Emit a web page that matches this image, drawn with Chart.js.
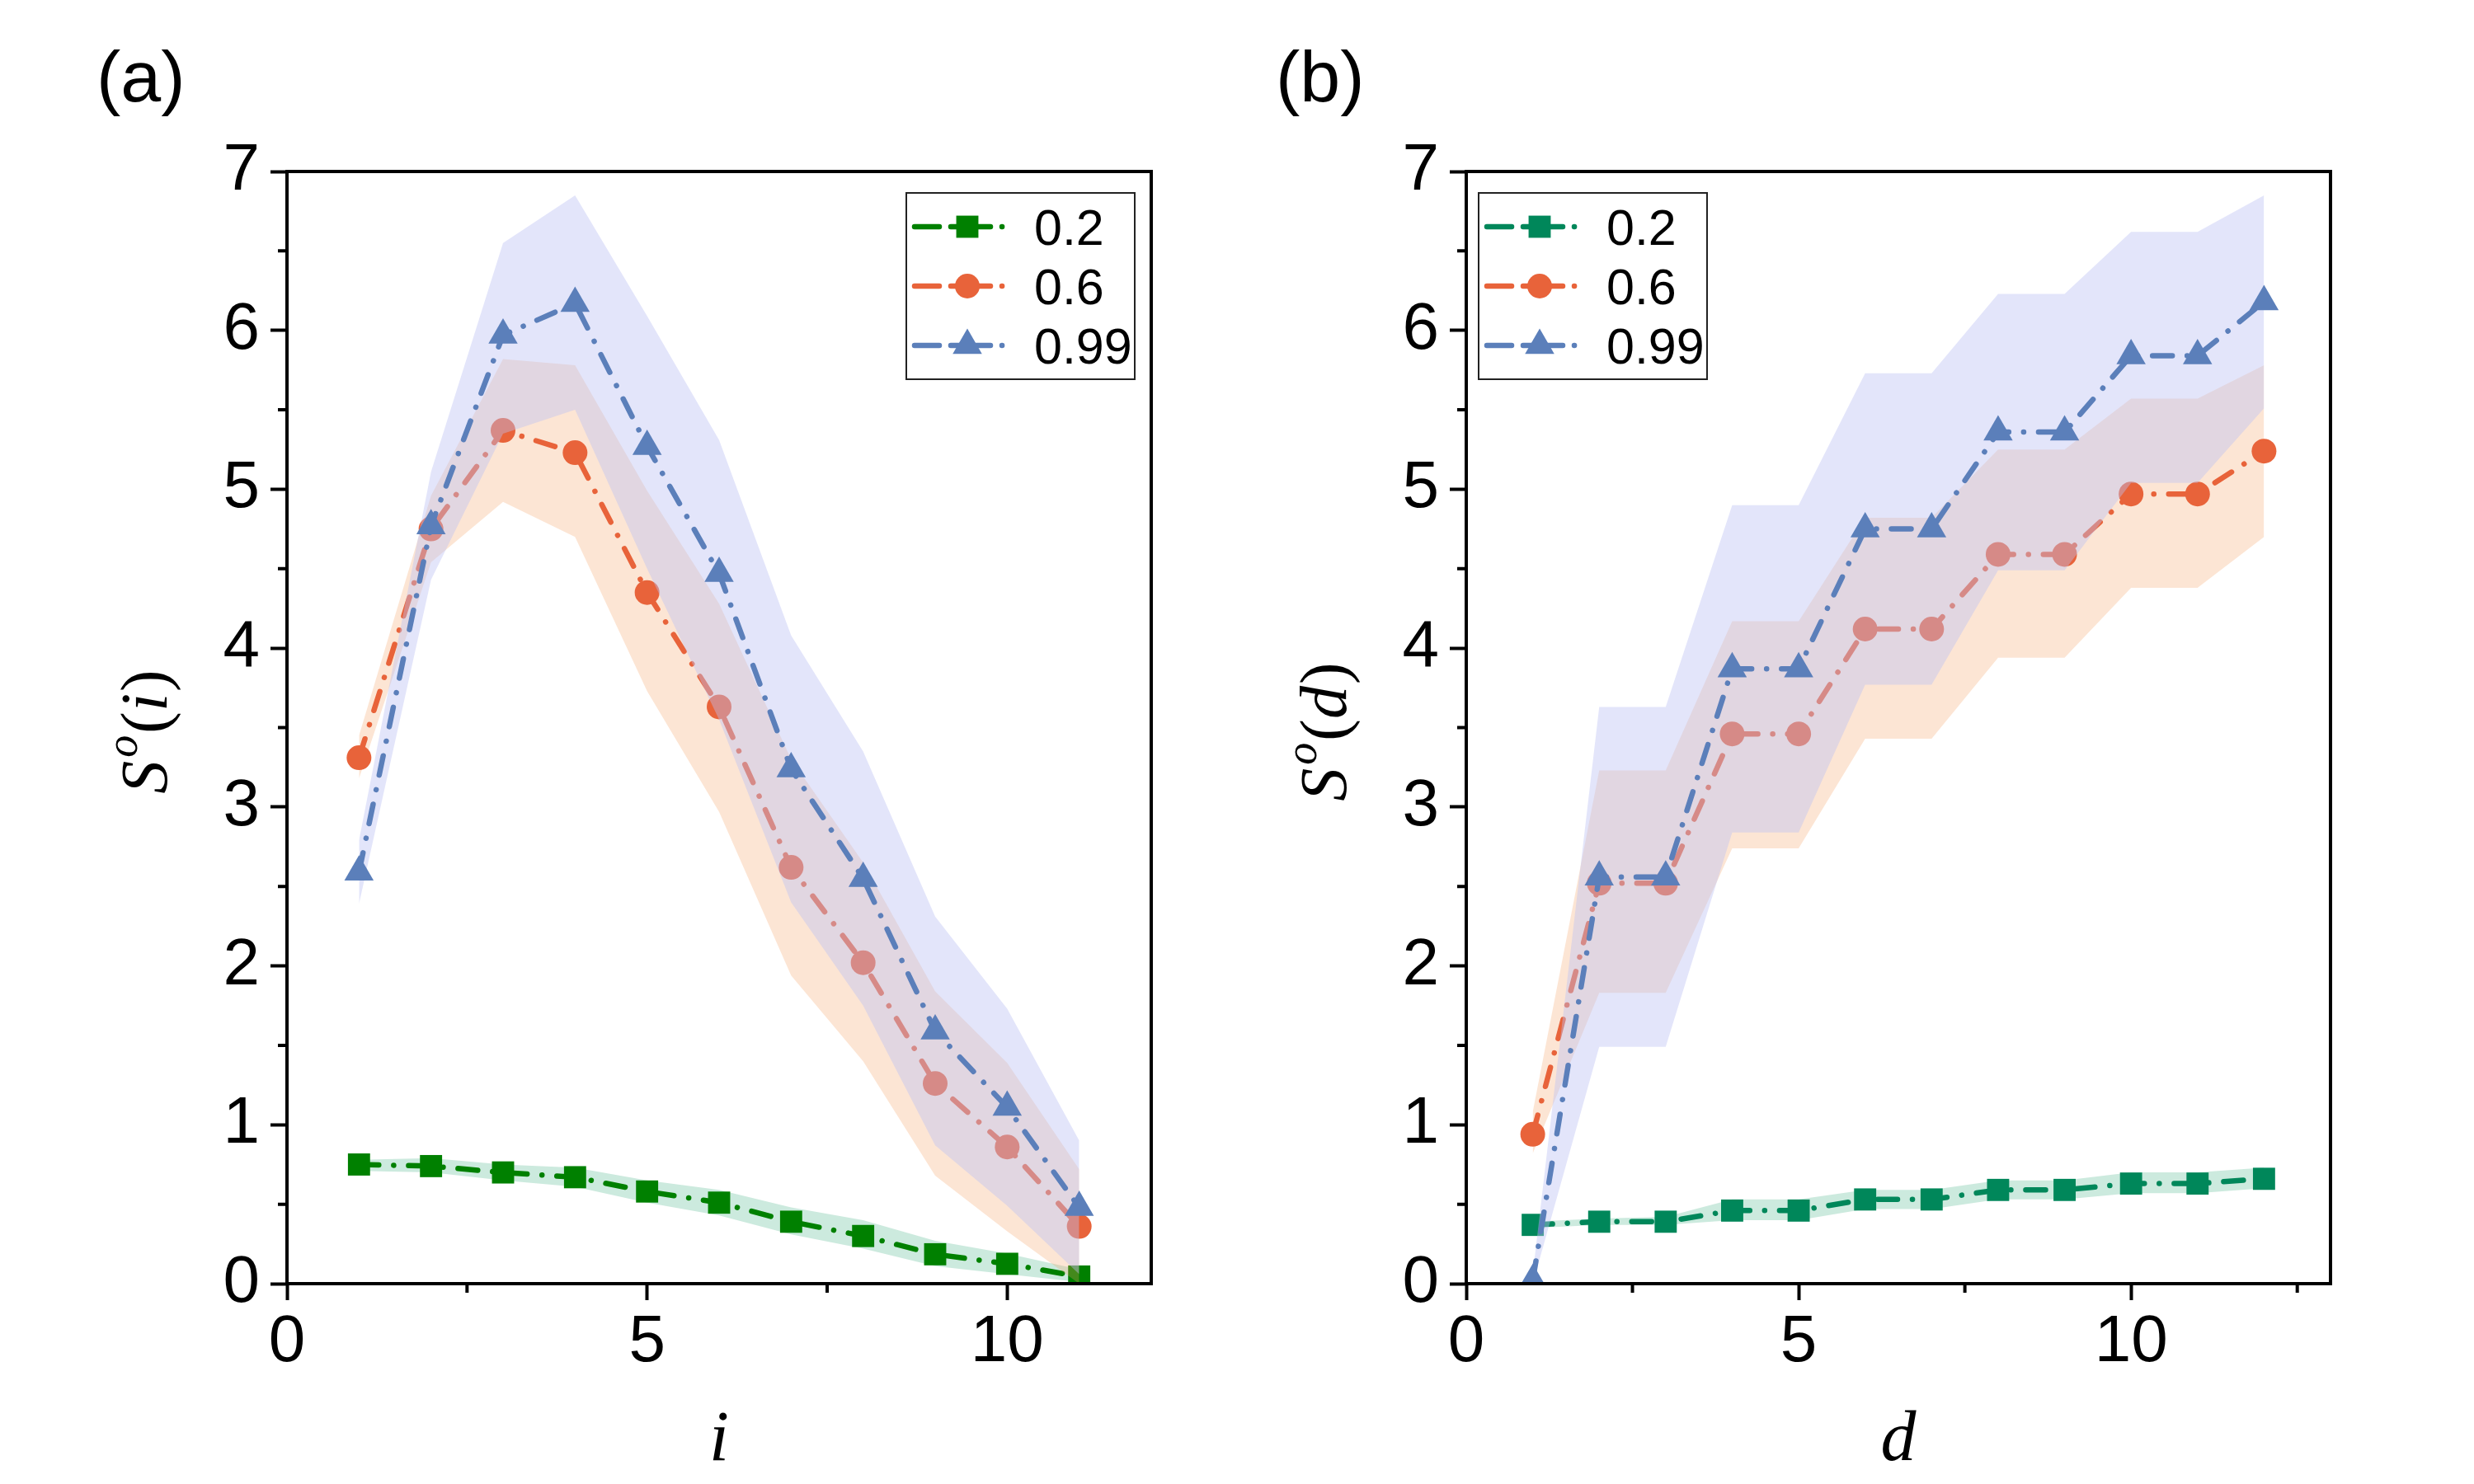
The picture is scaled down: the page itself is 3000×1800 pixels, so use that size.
<!DOCTYPE html>
<html>
<head>
<meta charset="utf-8">
<script src="https://cdn.jsdelivr.net/npm/chart.js@4.4.1/dist/chart.umd.min.js"></script>
<style>
  html, body { margin: 0; padding: 0; background: #fff; }
  #wrap { position: relative; width: 3000px; height: 1800px; }
  canvas { position: absolute; top: 0; }
  #ca { left: 0; }
  #cb { left: 1500px; }
</style>
</head>
<body>
<div id="wrap">
  <canvas id="ca" width="1500" height="1800"></canvas>
  <canvas id="cb" width="1500" height="1800"></canvas>
</div>
<script>
/* S^o(i) и S^o(d) — два панели, полосы разброса + dash-dot линии */

// ---- данные: панель (a) ----
const iVals = [1, 2, 3, 4, 5, 6, 7, 8, 9, 10, 11];
const a02   = [0.75, 0.74, 0.70, 0.67, 0.58, 0.51, 0.39, 0.30, 0.185, 0.125, 0.045];
const a02Hi = [0.78, 0.79, 0.75, 0.73, 0.65, 0.59, 0.48, 0.40, 0.27, 0.19, 0.09];
const a02Lo = [0.71, 0.70, 0.65, 0.61, 0.51, 0.43, 0.31, 0.22, 0.11, 0.06, 0.01];
const a06   = [3.31, 4.75, 5.37, 5.23, 4.35, 3.63, 2.62, 2.02, 1.26, 0.86, 0.36];
const a06Hi = [3.45, 4.96, 5.82, 5.78, 4.99, 4.28, 3.30, 2.65, 1.84, 1.39, 0.72];
const a06Lo = [3.18, 4.54, 4.92, 4.70, 3.73, 2.97, 1.94, 1.40, 0.68, 0.33, 0.00];
const a099   = [2.59, 4.77, 5.97, 6.17, 5.27, 4.47, 3.24, 2.55, 1.59, 1.11, 0.48];
const a099Hi = [2.79, 5.11, 6.55, 6.85, 6.09, 5.31, 4.08, 3.35, 2.31, 1.73, 0.90];
const a099Lo = [2.39, 4.43, 5.35, 5.50, 4.50, 3.55, 2.40, 1.75, 0.87, 0.49, 0.06];

// ---- данные: панель (b) ----
const dVals = [1, 2, 3, 4, 5, 6, 7, 8, 9, 10, 11, 12];
const b02   = [0.37, 0.39, 0.39, 0.46, 0.46, 0.53, 0.53, 0.59, 0.59, 0.63, 0.63, 0.66];
const b02Hi = [0.39, 0.41, 0.42, 0.53, 0.53, 0.59, 0.59, 0.65, 0.65, 0.70, 0.70, 0.73];
const b02Lo = [0.35, 0.37, 0.37, 0.40, 0.40, 0.47, 0.47, 0.53, 0.53, 0.57, 0.57, 0.60];
const b06   = [0.94, 2.52, 2.52, 3.46, 3.46, 4.12, 4.12, 4.59, 4.59, 4.97, 4.97, 5.24];
const b06Hi = [1.08, 3.23, 3.23, 4.17, 4.17, 4.82, 4.82, 5.25, 5.25, 5.57, 5.57, 5.78];
const b06Lo = [0.82, 1.83, 1.83, 2.74, 2.74, 3.43, 3.43, 3.94, 3.94, 4.38, 4.38, 4.70];
const b099   = [0.02, 2.56, 2.56, 3.87, 3.87, 4.75, 4.75, 5.36, 5.36, 5.84, 5.84, 6.18];
const b099Hi = [0.06, 3.63, 3.63, 4.90, 4.90, 5.73, 5.73, 6.23, 6.23, 6.62, 6.62, 6.85];
const b099Lo = [0.00, 1.49, 1.49, 2.84, 2.84, 3.77, 3.77, 4.49, 4.49, 5.04, 5.04, 5.51];

const seriesNames = ["0.2", "0.6", "0.99"];
const yTicks = [0, 1, 2, 3, 4, 5, 6, 7];

// ---- стиль ----
const DASH = [24, 18, 0.1, 18];
const LW = 6.5;
const ORANGE = "#E8633A", BLUE = "#5B7FBA";
const GREEN_A = "#008000", GREEN_B = "#00875A";
const BAND_G = "rgba(0,150,90,0.2)";
const BAND_O = "rgba(245,160,100,0.28)";
const BAND_B = "rgba(188,193,243,0.42)";
const NONE = "rgba(0,0,0,0)";
const SANS = '"Liberation Sans", Arial, sans-serif';
const SERIF = '"Liberation Serif", "Times New Roman", serif';
const R_SQ = 19, R_CI = 15, R_TR = 20.5;

const pts = (xs, ys) => xs.map((x, k) => ({ x, y: ys[k] }));

function series(xs, mid, lo, hi, line, band, ps, r) {
  return [
    { data: pts(xs, mid), borderColor: line, backgroundColor: line, borderWidth: LW,
      borderDash: DASH, borderCapStyle: "round", pointStyle: ps, pointRadius: r,
      pointBorderWidth: 0, pointBackgroundColor: line, fill: false, tension: 0 },
    { data: pts(xs, hi), borderColor: NONE, borderWidth: 0, pointRadius: 0,
      backgroundColor: band, fill: "+1", tension: 0 },
    { data: pts(xs, lo), borderColor: NONE, borderWidth: 0, pointRadius: 0, fill: false, tension: 0 },
  ];
}

function marker(ctx, ps, x, y, r) {
  Chart.helpers.drawPoint(ctx, { pointStyle: ps, radius: r, borderWidth: 0, rotation: 0 }, x, y);
}

function yTitle(ctx, cx, cy, v) {
  const big = "italic 80px " + SERIF, up = "80px " + SERIF, sup = "italic 54px " + SERIF;
  const parts = [["S", big, 0, 4], ["o", sup, -36, 2], ["(", up, 0, 0], [v, big, 0, 2], [")", up, 0, 0]];
  ctx.save();
  ctx.translate(cx, cy);
  ctx.rotate(-Math.PI / 2);
  ctx.fillStyle = "#000";
  ctx.textBaseline = "alphabetic";
  let w = 0;
  parts.forEach((p) => { ctx.font = p[1]; p.w = ctx.measureText(p[0]).width + p[3]; w += p.w; });
  let x = -w / 2;
  parts.forEach((p) => { ctx.font = p[1]; ctx.fillText(p[0], x, p[2]); x += p.w; });
  ctx.restore();
}

const deco = {
  id: "deco",
  afterDraw(chart, args, o) {
    const { ctx, chartArea: a, scales } = chart;
    ctx.save();
    ctx.strokeStyle = "#000";
    ctx.lineWidth = 4;
    ctx.strokeRect(a.left, a.top, a.right - a.left, a.bottom - a.top);
    ctx.beginPath();
    o.xMinor.forEach((v) => {
      const x = scales.x.getPixelForValue(v);
      ctx.moveTo(x, a.bottom); ctx.lineTo(x, a.bottom + 11);
    });
    o.yMinor.forEach((v) => {
      const y = scales.y.getPixelForValue(v);
      ctx.moveTo(a.left, y); ctx.lineTo(a.left - 11, y);
    });
    ctx.stroke();

    // легенда
    const bw = 277, bh = 226;
    const bx = o.legendLeft ? a.left + 15 : a.right - 20 - bw;
    const by = a.top + 26;
    ctx.lineWidth = 2;
    ctx.strokeStyle = "#222";
    ctx.strokeRect(bx, by, bw, bh);
    o.items.forEach((it, k) => {
      const ry = by + 41 + k * 72;
      ctx.save();
      ctx.strokeStyle = it.color;
      ctx.lineWidth = LW;
      ctx.lineCap = "round";
      ctx.setLineDash([30, 14, 48, 14, 0.1, 14]);
      ctx.beginPath();
      ctx.moveTo(bx + 10, ry); ctx.lineTo(bx + 128, ry);
      ctx.stroke();
      ctx.restore();
      ctx.fillStyle = it.color;
      marker(ctx, it.ps, bx + 74, ry, it.r);
      ctx.fillStyle = "#000";
      ctx.font = "61px " + SANS;
      ctx.textBaseline = "alphabetic";
      ctx.fillText(it.name, bx + 155, ry + 22);
    });

    yTitle(ctx, a.left - 146, (a.top + a.bottom) / 2 + 5, o.v);

    ctx.fillStyle = "#000";
    ctx.font = "88px " + SANS;
    ctx.textBaseline = "alphabetic";
    ctx.fillText(o.label, a.left - 231, 123);
    ctx.restore();
  },
};

function makeChart(id, xMax, sets, o) {
  return new Chart(document.getElementById(id), {
    type: "line",
    data: { datasets: sets },
    plugins: [deco],
    options: {
      responsive: false,
      devicePixelRatio: 1,
      animation: false,
      events: [],
      layout: { padding: { left: 0, top: 208, right: o.padRight, bottom: 0 } },
      plugins: { legend: { display: false }, tooltip: { enabled: false }, deco: o },
      scales: {
        x: {
          type: "linear", min: 0, max: xMax,
          afterFit: (s) => { s.height = 243; },
          border: { display: false },
          grid: { drawOnChartArea: false, drawTicks: true, tickLength: 20, tickWidth: 4, tickColor: "#000" },
          ticks: { stepSize: 5, includeBounds: false, color: "#000", padding: 4,
                   font: { family: SANS, size: 80 }, maxRotation: 0 },
          title: { display: true, text: o.v, color: "#000", padding: { top: 0, bottom: 0 },
                   font: { family: SERIF, style: "italic", size: 86 } },
        },
        y: {
          type: "linear", min: 0, max: 7,
          afterFit: (s) => { s.width = o.yWidth; },
          afterBuildTicks: (s) => { s.ticks = yTicks.map((v) => ({ value: v })); },
          border: { display: false },
          grid: { drawOnChartArea: false, drawTicks: true, tickLength: 20, tickWidth: 4, tickColor: "#000" },
          ticks: { color: "#000", padding: 13, font: { family: SANS, size: 80 } },
        },
      },
    },
  });
}

const yMinor = [0.5, 1.5, 2.5, 3.5, 4.5, 5.5, 6.5];

makeChart("ca", 12, [
  ...series(iVals, a099, a099Lo, a099Hi, BLUE, BAND_B, "triangle", R_TR),
  ...series(iVals, a06, a06Lo, a06Hi, ORANGE, BAND_O, "circle", R_CI),
  ...series(iVals, a02, a02Lo, a02Hi, GREEN_A, BAND_G, "rect", R_SQ),
], {
  v: "i", label: "(a)", yWidth: 348, padRight: 104, legendLeft: false,
  xMinor: [2.5, 7.5], yMinor,
  items: [
    { name: seriesNames[0], color: GREEN_A, ps: "rect", r: R_SQ },
    { name: seriesNames[1], color: ORANGE, ps: "circle", r: R_CI },
    { name: seriesNames[2], color: BLUE, ps: "triangle", r: R_TR },
  ],
});

makeChart("cb", 13, [
  ...series(dVals, b099, b099Lo, b099Hi, BLUE, BAND_B, "triangle", R_TR),
  ...series(dVals, b06, b06Lo, b06Hi, ORANGE, BAND_O, "circle", R_CI),
  ...series(dVals, b02, b02Lo, b02Hi, GREEN_B, BAND_G, "rect", R_SQ),
], {
  v: "d", label: "(b)", yWidth: 278, padRight: 174, legendLeft: true,
  xMinor: [2.5, 7.5, 12.5], yMinor,
  items: [
    { name: seriesNames[0], color: GREEN_B, ps: "rect", r: R_SQ },
    { name: seriesNames[1], color: ORANGE, ps: "circle", r: R_CI },
    { name: seriesNames[2], color: BLUE, ps: "triangle", r: R_TR },
  ],
});
</script>
</body>
</html>
